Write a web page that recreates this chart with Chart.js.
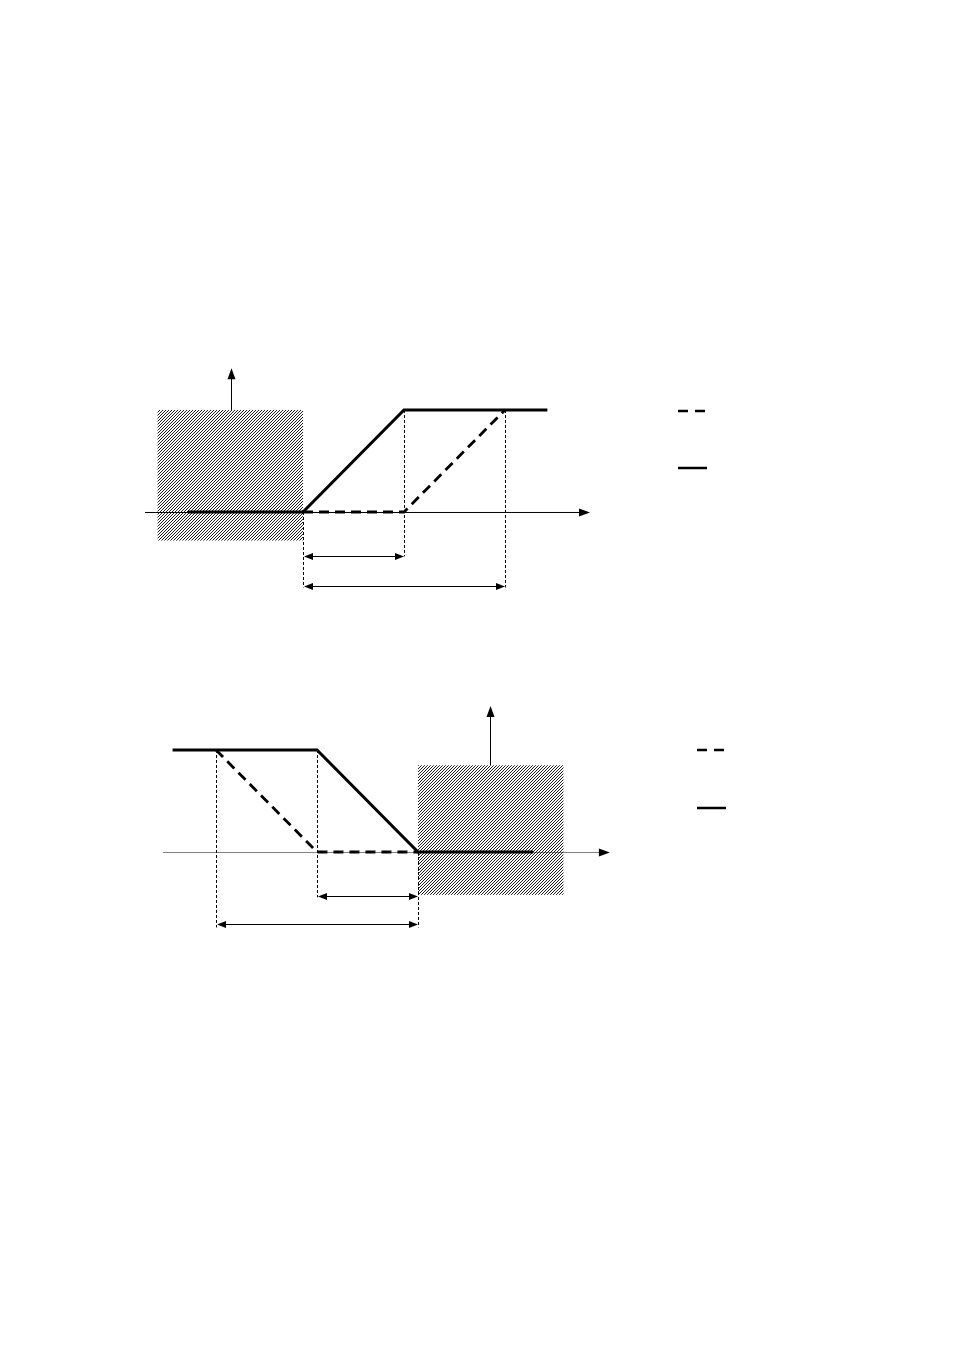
<!DOCTYPE html>
<html>
<head>
<meta charset="utf-8">
<script src="https://cdn.jsdelivr.net/npm/chart.js@4.4.1/dist/chart.umd.min.js"></script>
<style>
  body { margin: 0; background: #fff; }
  #page { position: relative; width: 954px; height: 1351px; }
  canvas { position: absolute; }
</style>
</head>
<body>
<div id="page">
  <canvas id="riseChart" width="600" height="260" style="left:130px;top:350px"></canvas>
  <canvas id="fallChart" width="610" height="260" style="left:140px;top:690px"></canvas>
</div>
<script>
// rising panel (top)
const riseSolidX = [-0.14, 1, 2, 3.42];
const riseSolidY = [0, 0, 1, 1];
const riseDashX = [1, 2, 3];
const riseDashY = [0, 0, 1];
const riseZoneX = [-0.44, 1];
const riseZoneY = [-0.28, 1];
const riseSpans = [[1, 2], [1, 3]];

// falling panel (bottom)
const fallSolidX = [0.57, 2, 3, 4.14];
const fallSolidY = [1, 1, 0, 0];
const fallDashX = [1, 2, 3];
const fallDashY = [1, 0, 0];
const fallZoneX = [3, 4.44];
const fallZoneY = [-0.42, 0.85];
const fallSpans = [[2, 3], [1, 3]];

function toPoints(xs, ys) {
    return xs.map((x, i) => ({ x: x, y: ys[i] }));
}

function hatchPattern(ctx) {
    const c = document.createElement("canvas");
    c.width = 3;
    c.height = 3;
    const p = c.getContext("2d");
    p.strokeStyle = "#000";
    p.lineWidth = 0.9;
    p.beginPath();
    p.moveTo(0, 3); p.lineTo(3, 0);
    p.moveTo(-1, 1); p.lineTo(1, -1);
    p.moveTo(2, 4); p.lineTo(4, 2);
    p.stroke();
    return ctx.createPattern(c, "repeat");
}

function arrowHead(ctx, x, y, dx, dy, len, half) {
    ctx.beginPath();
    ctx.moveTo(x, y);
    ctx.lineTo(x - dx * len - dy * half, y - dy * len + dx * half);
    ctx.lineTo(x - dx * len + dy * half, y - dy * len - dx * half);
    ctx.closePath();
    ctx.fill();
}

const diagramPlugin = {
    id: "diagram",
    beforeDatasetsDraw(chart, args, o) {
        const ctx = chart.ctx;
        const sx = chart.scales.x, sy = chart.scales.y;
        const X = v => sx.getPixelForValue(v), Y = v => sy.getPixelForValue(v);
        ctx.save();
        ctx.fillStyle = "#000";

        // horizontal axis
        ctx.strokeStyle = o.axisColor;
        ctx.lineWidth = 1;
        ctx.beginPath();
        ctx.moveTo(X(o.hAxis[0]), Y(0) + 0.5);
        ctx.lineTo(X(o.hAxis[1]) - 4, Y(0) + 0.5);
        ctx.stroke();
        arrowHead(ctx, X(o.hAxis[1]), Y(0) + 0.5, 1, 0, 11, 4);

        // hatched zone
        const zx = X(o.zoneX[0]), zw = X(o.zoneX[1]) - zx;
        const zy = Y(o.zoneY[1]), zh = Y(o.zoneY[0]) - zy;
        ctx.fillStyle = hatchPattern(ctx);
        ctx.fillRect(zx, zy, zw, zh);
        ctx.fillStyle = "#000";

        // vertical axis above the zone
        ctx.strokeStyle = "#000";
        ctx.beginPath();
        ctx.moveTo(X(o.vAxis[0]) + 0.5, Y(o.vAxis[1]));
        ctx.lineTo(X(o.vAxis[0]) + 0.5, Y(o.vAxis[2]) + 4);
        ctx.stroke();
        arrowHead(ctx, X(o.vAxis[0]) + 0.5, Y(o.vAxis[2]), 0, -1, 11, 4);

        // guide lines
        ctx.setLineDash([3, 2]);
        o.guides.forEach(g => {
            ctx.beginPath();
            ctx.moveTo(X(g[0]) + 0.5, Y(g[1]));
            ctx.lineTo(X(g[0]) + 0.5, Y(g[2]));
            ctx.stroke();
        });
        ctx.setLineDash([]);

        // dimension arrows
        o.spans.forEach((s, i) => {
            const y = Math.round(Y(o.spanY[i])) + 0.5;
            const a = X(s[0]) + 1, b = X(s[1]);
            ctx.beginPath();
            ctx.moveTo(a + 6, y);
            ctx.lineTo(b - 6, y);
            ctx.stroke();
            arrowHead(ctx, a, y, -1, 0, 9, 3.5);
            arrowHead(ctx, b, y, 1, 0, 9, 3.5);
        });
        ctx.restore();
    },
    afterDraw(chart, args, o) {
        const ctx = chart.ctx;
        const left = chart.chartArea.right + o.legendDx;
        ctx.save();
        ctx.strokeStyle = "#000";
        ctx.lineWidth = 2.5;
        ctx.setLineDash([10, 7]);
        ctx.beginPath();
        ctx.moveTo(left, o.legendY[0]);
        ctx.lineTo(left + 27, o.legendY[0]);
        ctx.stroke();
        ctx.setLineDash([]);
        ctx.beginPath();
        ctx.moveTo(left, o.legendY[1]);
        ctx.lineTo(left + 29, o.legendY[1]);
        ctx.stroke();
        ctx.restore();
    }
};

function makePanel(id, solid, dash, xMin, xMax, padRight, diagram) {
    return new Chart(document.getElementById(id), {
        type: "line",
        data: {
            datasets: [
                {
                    data: dash,
                    borderColor: "#000",
                    borderWidth: 2.8,
                    borderDash: [10, 6],
                    pointRadius: 0,
                    tension: 0,
                },
                {
                    data: solid,
                    borderColor: "#000",
                    borderWidth: 3,
                    pointRadius: 0,
                    tension: 0,
                },
            ],
        },
        options: {
            responsive: false,
            animation: false,
            events: [],
            layout: { padding: { left: 0, top: 0, bottom: 0, right: padRight } },
            plugins: {
                legend: { display: false },
                tooltip: { enabled: false },
                diagram: diagram,
            },
            scales: {
                x: { type: "linear", min: xMin, max: xMax, display: false },
                y: { type: "linear", min: -0.961, max: 1.588, display: false },
            },
        },
        plugins: [diagramPlugin],
    });
}

makePanel("riseChart", toPoints(riseSolidX, riseSolidY), toPoints(riseDashX, riseDashY),
    -0.713, 4.04, 120, {
        axisColor: "#000",
        hAxis: [-0.564, 3.842],
        vAxis: [0.287, 1, 1.41],
        zoneX: riseZoneX,
        zoneY: riseZoneY,
        guides: [[1, 0, -0.74], [2, 1, -0.435], [3, 1, -0.74]],
        spans: riseSpans,
        spanY: [-0.431, -0.725],
        legendDx: 68,
        legendY: [61, 118],
    });

makePanel("fallChart", toPoints(fallSolidX, fallSolidY), toPoints(fallDashX, fallDashY),
    0.2475, 5.0, 130, {
        axisColor: "#808080",
        hAxis: [0.475, 4.9],
        vAxis: [3.713, 0.853, 1.43],
        zoneX: fallZoneX,
        zoneY: fallZoneY,
        guides: [[1, 1, -0.74], [2, 1, -0.445], [3, 0, -0.74]],
        spans: fallSpans,
        spanY: [-0.431, -0.706],
        legendDx: 77,
        legendY: [60, 118],
    });
</script>
</body>
</html>
